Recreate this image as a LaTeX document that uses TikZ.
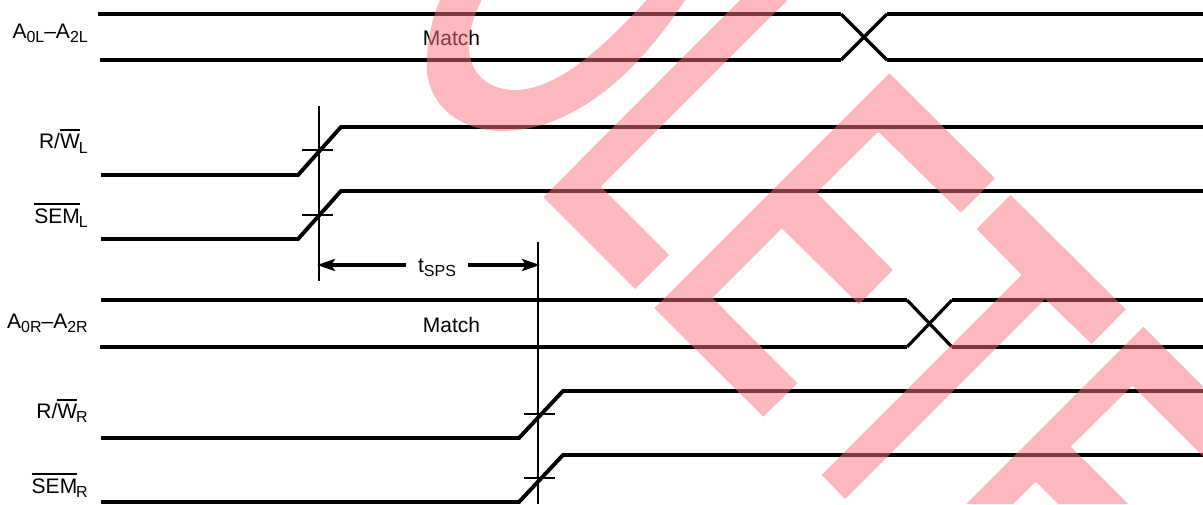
\documentclass[tikz,border=0pt]{standalone}
\usepackage{fontspec}
\setmainfont{Liberation Sans}
\usetikzlibrary{arrows.meta, positioning}
\definecolor{stampred}{RGB}{255, 115, 125}
\newcommand{\sigsub}[1]{\raisebox{-4.5pt}{\fontsize{16}{16}\selectfont #1}}
\newcommand{\sigbar}[1]{\vbox{\hrule height 2pt\kern 3pt\hbox{#1}}\kern -1pt}

\begin{document}
\begin{tikzpicture}[x=1pt, y=-1pt,
    sigline/.style={line width=3.9pt, line join=miter},
    crossline/.style={line width=3.2pt},
    thinline/.style={line width=2.3pt},
    dimline/.style={line width=3.4pt, -{Stealth[length=18pt, width=12pt, inset=4pt]}},
    siglabel/.style={anchor=base east, inner sep=0pt, font=\fontsize{21}{24}\selectfont},
    matchlabel/.style={anchor=base, inner sep=0pt, font=\fontsize{21}{24}\selectfont},
    stamp/.style={fill=stampred, fill opacity=0.5, draw=none}]

    \useasboundingbox (0, 0) rectangle (1203, 504);

    % Labels
    \node[siglabel] (aleft) at (88, 38) {A\sigsub{0L}–A\sigsub{2L}};
    \node[siglabel] (rwleft) at (88, 148.5) {R/\sigbar{W}\sigsub{L}};
    \node[siglabel] (semleft) at (88, 223) {\sigbar{SEM}\sigsub{L}};
    \node[siglabel] (aright) at (88, 328) {A\sigsub{0R}–A\sigsub{2R}};
    \node[siglabel] (rwright) at (88, 418) {R/\sigbar{W}\sigsub{R}};
    \node[siglabel] (semright) at (88, 493) {\sigbar{SEM}\sigsub{R}};
    \node[matchlabel] (matchleft) at (451.5, 45) {Match};
    \node[matchlabel] (matchright) at (451.5, 332) {Match};

    % Address buses
    \draw[sigline] (98, 14) -- (841, 14);
    \draw[sigline] (100, 60) -- (841, 60);
    \draw[crossline] (841, 14) -- (887, 60);
    \draw[crossline] (841, 60) -- (887, 14);
    \draw[sigline] (887, 14) -- (1203, 14);
    \draw[sigline] (887, 60) -- (1203, 60);
    \draw[sigline] (101, 300) -- (907, 300);
    \draw[sigline] (100, 347) -- (907, 347);
    \draw[crossline] (907, 300) -- (952, 347);
    \draw[crossline] (907, 347) -- (952, 300);
    \draw[sigline] (952, 300) -- (1203, 300);
    \draw[sigline] (952, 347) -- (1203, 347);

    % Rising edges
    \draw[sigline] (101, 175) -- (298, 175) -- (341, 127) -- (1203, 127);
    \draw[sigline] (101, 239) -- (298, 239) -- (341, 191) -- (1203, 191);
    \draw[sigline] (101, 438) -- (519, 438) -- (563, 391) -- (1203, 391);
    \draw[sigline] (101, 502) -- (519, 502) -- (563, 455) -- (1203, 455);

    % Ticks and time marks
    \draw[thinline] (302, 150) -- (333, 150);
    \draw[thinline] (302, 215) -- (333, 215);
    \draw[thinline] (524, 414) -- (555, 414);
    \draw[thinline] (524, 478) -- (555, 478);
    \coordinate (lefttop) at (319, 106);
    \coordinate (leftend) at (319, 281);
    \coordinate (righttop) at (538, 242);
    \coordinate (rightend) at (538, 504);
    \draw[thinline] (lefttop) -- (leftend);
    \draw[thinline] (righttop) -- (rightend);

    % Interval
    \node[inner xsep=12pt, inner ysep=0pt, text height=16pt, text depth=2pt,
          font=\fontsize{21}{24}\selectfont] (tsps) at (437, 265) {t\sigsub{SPS}};
    \coordinate (tipleft) at (317, 265);
    \coordinate (tipright) at (540, 265);
    \draw[dimline] (tsps) -- (tipleft);
    \draw[dimline] (tsps) -- (tipright);

    % Watermark
    \fill[stamp] (440, 0) .. controls (431, 22) and (426.7, 44) .. (426.7, 65)
        .. controls (426.7, 105) and (460, 131) .. (501.7, 131)
        .. controls (565, 131) and (630, 85) .. (685, 0) -- (646.7, 0)
        .. controls (610, 40) and (560, 90) .. (515, 90)
        .. controls (485, 90) and (469, 70) .. (469, 47)
        .. controls (469, 30) and (474, 15) .. (481.7, 0) -- cycle;
    \fill[stamp] (740, 0) -- (787.5, 0) -- (600.7, 186.7) -- (669, 255)
        -- (635, 289) -- (543.3, 197.3) -- cycle;
    \fill[stamp] (654.3, 308.3) -- (889.3, 73.3) -- (995, 178.3) -- (961, 212.7)
        -- (878.3, 131.7) -- (816.7, 192.7) -- (892.7, 270) -- (859, 304.3)
        -- (781.7, 228.3) -- (712.3, 297.7) -- (797.3, 383.3) -- (763.3, 416.7) -- cycle;
    \fill[stamp] (1010.7, 195) -- (976.7, 229) -- (1021.7, 275) -- (821.7, 475)
        -- (845, 499) -- (1045, 299) -- (1091.7, 344) -- (1125.7, 309.3) -- cycle;
    \fill[stamp] (966, 504) -- (1143.3, 326.7) -- (1203, 386.4) -- (1203, 456.4)
        -- (1132.3, 385.7) -- (1070.7, 446.7) -- (1128, 504) -- (1058, 504)
        -- (1035.7, 481.7) -- (1013.4, 504) -- cycle;
\end{tikzpicture}
\end{document}
